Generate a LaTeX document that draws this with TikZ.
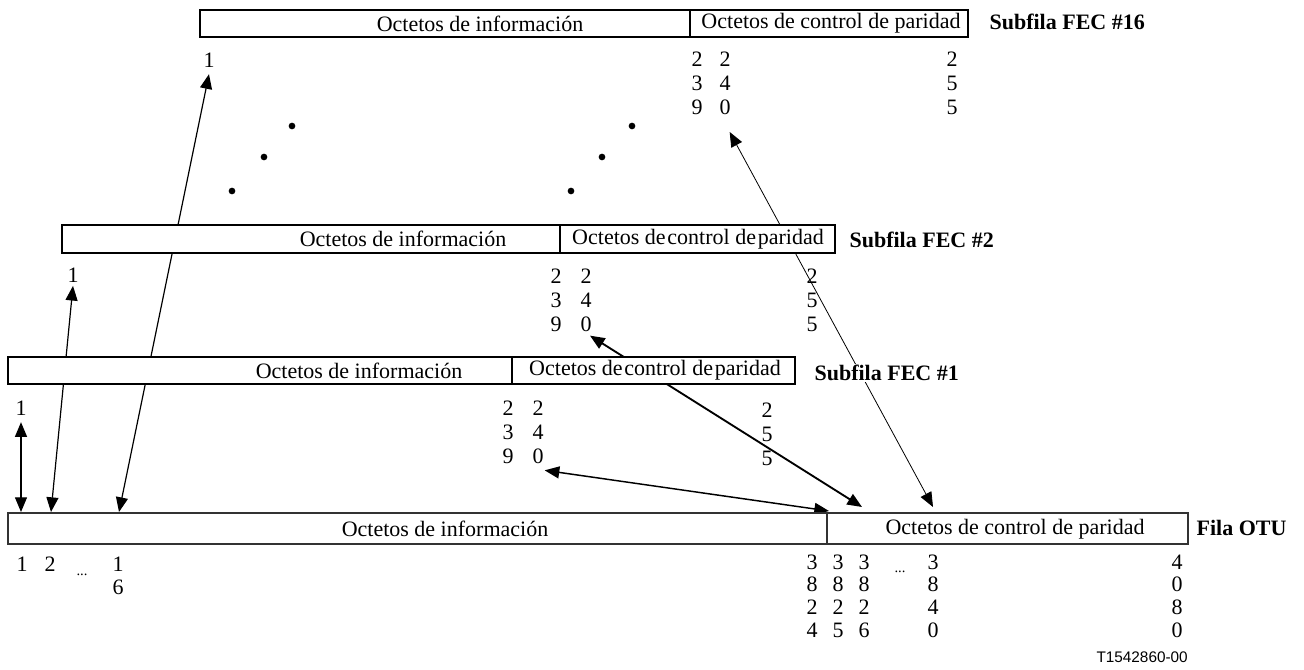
\documentclass[tikz,border=0pt]{standalone}
\usepackage{fontspec}
\setmainfont{Liberation Serif}
\setsansfont{Liberation Sans}
\usetikzlibrary{arrows.meta}
\newcommand{\tightsp}{{\spaceskip=.08em\relax\space}}

\begin{document}
\begin{tikzpicture}[x=0.75pt, y=-0.75pt, font=\fontsize{16.5}{18}\selectfont,
  rowbox/.style={draw, fill=white, line width=0.8pt},
  digits/.style={inner sep=0pt, align=center},
  rowname/.style={anchor=west, inner sep=1pt, fill=white, font=\fontsize{16.5}{18}\selectfont\bfseries},
  twoway/.style={{Triangle[length=11pt,width=9pt]}-{Triangle[length=11pt,width=9pt]}}]
\useasboundingbox (0,0) rectangle (1304,670);
% octet numbers under each row
\node[digits] (one16) at (209,60) {1};
\node[digits] (c16a) at (697,83) {2\\3\\9};
\node[digits] (c16b) at (725,83) {2\\4\\0};
\node[digits] (c16c) at (952,83) {2\\5\\5};
\node[digits] (one2) at (73,275) {1};
\node[digits] (c2a) at (556,300) {2\\3\\9};
\node[digits] (c2b) at (586,300) {2\\4\\0};
\node[digits] (c2c) at (812,300) {2\\5\\5};
\node[digits] (one1) at (21,408) {1};
\node[digits] (c1a) at (508,432) {2\\3\\9};
\node[digits] (c1b) at (538,432) {2\\4\\0};
\node[digits] (c1c) at (767,434) {2\\5\\5};
\begin{scope}[font=\fontsize{16.5}{17}\selectfont]
\node[digits] (otu1) at (22,564) {1};
\node[digits] (otu2) at (50,564) {2};
\node[digits, font=\fontsize{11}{12}\selectfont] (otud) at (82,575) {...};
\node[digits] (otu16) at (118,576) {1\\6};
\node[digits] (otua) at (812,596) {3\\8\\2\\4};
\node[digits] (otub) at (838,596) {3\\8\\2\\5};
\node[digits] (otuc) at (864,596) {3\\8\\2\\6};
\node[digits, font=\fontsize{11}{12}\selectfont] (otue) at (900,572) {...};
\node[digits] (otuf) at (933,596) {3\\8\\4\\0};
\node[digits] (otug) at (1177,596) {4\\0\\8\\0};
\end{scope}
% arrow ends on the OTU row
\coordinate (o1) at (21,512);
\coordinate (o2) at (51,512);
\coordinate (o3) at (119,512);
\coordinate (o4) at (829,511);
\coordinate (o5) at (862,507);
\coordinate (o6) at (933,507);
\draw[twoway, line width=0.9pt] ([yshift=-5pt]one1.south) -- (o1);
\draw[twoway, line width=0.9pt] ([yshift=-2.5pt]one2.south) -- (o2);
\draw[twoway, line width=0.9pt] ([yshift=-5pt]one16.south) -- (o3);
\draw[twoway, line width=1.1pt] ([xshift=5pt,yshift=-5pt]c1b.south) -- (o4);
\draw[twoway, line width=1.4pt] ([xshift=3pt,yshift=-3pt]c2b.south) -- (o5);
\draw[twoway, line width=0.6pt] ([xshift=3.5pt,yshift=-13pt]c16b.south) -- (o6);
% dots between FEC #2 and FEC #16
\fill (292,126) circle[radius=2.5pt];
\fill (264,157) circle[radius=2.5pt];
\fill (232,191) circle[radius=2.5pt];
\fill (632,126) circle[radius=2.5pt];
\fill (602,157) circle[radius=2.5pt];
\fill (571,191) circle[radius=2.5pt];
% rows
\draw[rowbox] (200,10) rectangle (690,37);
\draw[rowbox] (690,10) rectangle (968,37);
\draw[rowbox] (62,225) rectangle (560,253);
\draw[rowbox] (560,225) rectangle (835,253);
\draw[rowbox] (8,357) rectangle (512,384);
\draw[rowbox] (512,357) rectangle (795,384);
\draw[rowbox, line width=1.2pt, draw=black!80] (8,513) rectangle (827,544);
\draw[rowbox, line width=1.2pt, draw=black!80] (827,513) rectangle (1188,544);
\node (info16) at (480,23.5) {Octetos de información};
\node (par16) at (831,23.5) {Octetos de control de paridad};
\node (info2) at (403,239) {Octetos de información};
\node (par2) at (698,239) {Octetos de\tightsp control de\tightsp paridad};
\node (info1) at (359,370.5) {Octetos de información};
\node (par1) at (655,370.5) {Octetos de\tightsp control de\tightsp paridad};
\node (infootu) at (445,529) {Octetos de información};
\node (parotu) at (1015,529) {Octetos de control de paridad};
\node[rowname] (sub16) at (988,22) {Subfila FEC \#16};
\node[rowname] (sub2) at (848,240) {Subfila FEC \#2};
\node[rowname] (sub1) at (813,373) {Subfila FEC \#1};
\node[rowname] (fila) at (1195,528) {Fila OTU};
\node[anchor=east, inner sep=0pt, font=\sffamily\fontsize{11.5}{12}\selectfont] (ref) at (1188,657) {T1542860-00};
\end{tikzpicture}
\end{document}
